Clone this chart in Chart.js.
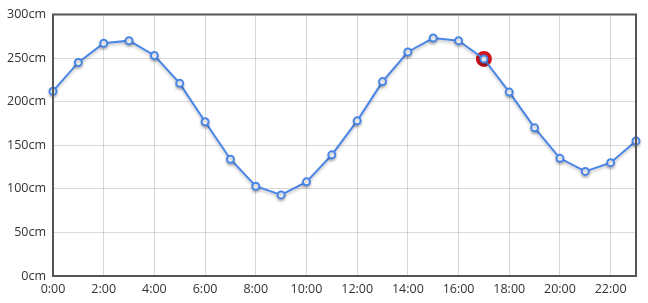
<!DOCTYPE html>
<html>
<head>
<meta charset="utf-8">
<script src="https://cdn.jsdelivr.net/npm/chart.js@4"></script>
<style>
  html, body { margin: 0; padding: 0; background: #fff; }
  #wrap { width: 648px; height: 303px; }
</style>
</head>
<body>
<div id="wrap"><canvas id="tideChart"></canvas></div>
<script>
const hours = ['0:00','1:00','2:00','3:00','4:00','5:00','6:00','7:00','8:00','9:00','10:00','11:00',
  '12:00','13:00','14:00','15:00','16:00','17:00','18:00','19:00','20:00','21:00','22:00','23:00'];
const tideHeights = [212, 245, 267, 270, 253, 221, 177, 134, 103, 93, 108, 139,
  178, 223, 257, 273, 270, 249, 211, 170, 135, 120, 130, 155];
const currentHour = 17;
const yTicks = [0, 50, 100, 150, 200, 250, 300];

const highlight = tideHeights.map((v, i) => i === currentHour ? v : null);

const frame = {
    id: 'frame',
    afterDraw(chart) {
        const a = chart.chartArea, c = chart.ctx;
        c.save();
        c.strokeStyle = '#555';
        c.lineWidth = 2;
        c.strokeRect(a.left, a.top, a.right - a.left, a.bottom - a.top);
        c.restore();
    }
};

const lineShadow = {
    id: 'lineShadow',
    beforeDatasetDraw(chart, args) {
        if (args.index !== 0) return;
        const c = chart.ctx;
        c.save();
        c.shadowColor = 'rgba(0,0,0,0.25)';
        c.shadowBlur = 3;
        c.shadowOffsetY = 2;
    },
    afterDatasetDraw(chart, args) {
        if (args.index !== 0) return;
        chart.ctx.restore();
    }
};

const ctx = document.getElementById('tideChart').getContext('2d');
new Chart(ctx, {
    type: 'line',
    data: {
        labels: hours,
        datasets: [{
            data: tideHeights,
            borderColor: '#4a86e8',
            borderWidth: 2,
            backgroundColor: '#fff',
            pointBackgroundColor: '#fff',
            pointBorderColor: '#4a86e8',
            pointBorderWidth: 2,
            pointRadius: 3.5,
            tension: 0,
            order: 1
        }, {
            data: highlight,
            showLine: false,
            pointRadius: 6.5,
            pointBorderWidth: 3,
            pointBorderColor: '#d0121b',
            pointBackgroundColor: '#d0121b',
            order: 2
        }]
    },
    options: {
        responsive: true,
        maintainAspectRatio: false,
        animation: false,
        layout: { padding: { top: 4, right: 12, left: 0, bottom: 0 } },
        plugins: {
            legend: { display: false },
            tooltip: { enabled: false }
        },
        scales: {
            x: {
                offset: false,
                grid: {
                    color: c => (c.index % 2 === 0 ? 'rgba(0,0,0,0.15)' : 'transparent'),
                    drawTicks: false
                },
                border: { display: false },
                ticks: {
                    autoSkip: false,
                    maxRotation: 0,
                    padding: 6,
                    color: '#333',
                    font: { family: 'Open Sans', size: 12.5 },
                    callback: (v, i) => (i % 2 === 0 ? hours[i] : '')
                }
            },
            y: {
                min: 0,
                max: 300,
                afterBuildTicks: axis => { axis.ticks = yTicks.map(v => ({ value: v })); },
                grid: { color: 'rgba(0,0,0,0.15)', drawTicks: false },
                border: { display: false },
                ticks: {
                    padding: 7,
                    color: '#333',
                    font: { family: 'Open Sans', size: 12.5 },
                    callback: v => v + 'cm'
                }
            }
        }
    },
    plugins: [lineShadow, frame]
});
</script>
</body>
</html>
